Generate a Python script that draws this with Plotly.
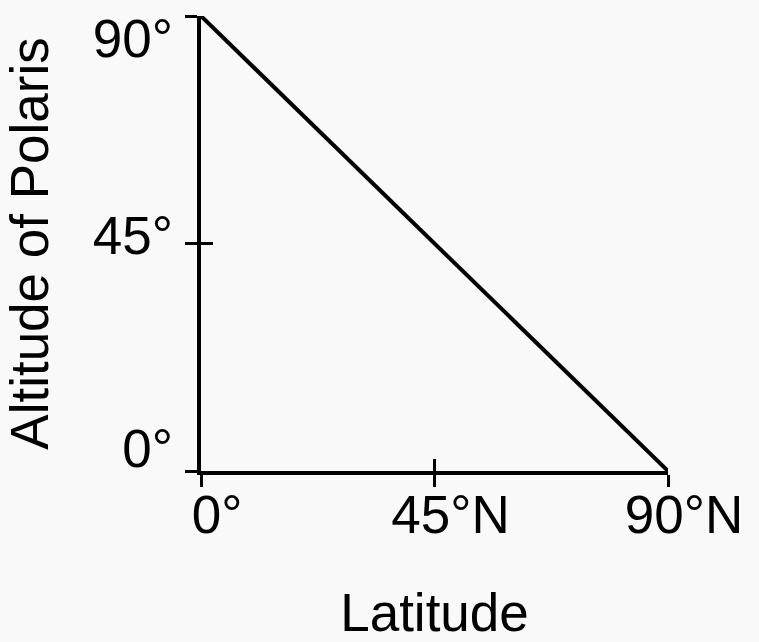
import plotly.graph_objects as go

# data: altitude of Polaris vs latitude
latitude = [0, 90]
altitude = [90, 0]

x_ticks = [0, 45, 90]
x_labels = ["0°", "45°N", "90°N"]
y_ticks = [0, 45, 90]
y_labels = ["0°", "45°", "90°"]

# where the y labels sit (nudged so the end labels stay inside the frame)
y_label_pos = [4.5, 46.6, 85.5]

FONT = "Liberation Sans, Arial, sans-serif"
BG = "#f9f9f9"

fig = go.Figure()

fig.add_trace(go.Scatter(
    x=latitude, y=altitude,
    mode="lines",
    line=dict(color="black", width=4),
    cliponaxis=False,
    hoverinfo="skip",
    showlegend=False,
))

# invisible traces so the overlay axes get drawn
for xa, ya in (("x2", "y2"), ("x", "y3")):
    fig.add_trace(go.Scatter(
        x=latitude, y=altitude,
        xaxis=xa, yaxis=ya,
        mode="lines",
        line=dict(color="rgba(0,0,0,0)", width=0),
        hoverinfo="skip",
        showlegend=False,
    ))

common = dict(
    range=[0, 90],
    showgrid=False,
    zeroline=False,
    showline=True,
    linecolor="black",
    linewidth=4,
    tickcolor="black",
    tickwidth=3,
    ticklen=12,
    automargin=False,
)

fig.update_layout(
    width=759,
    height=642,
    margin=dict(l=201, r=91, t=16, b=171),
    paper_bgcolor=BG,
    plot_bgcolor=BG,
    font=dict(family=FONT, size=53, color="black"),
    xaxis=dict(
        **common,
        ticks="outside",
        tickvals=x_ticks,
        ticktext=x_labels,
        ticklabelshift=16,
        ticklabelstandoff=-18,
        ticklabeloverflow="allow",
        title=dict(text="Latitude", standoff=52, font=dict(size=53)),
    ),
    yaxis=dict(
        **common,
        ticks="outside",
        tickvals=y_ticks,
        showticklabels=False,
    ),
    xaxis2=dict(
        **common,
        overlaying="x",
        anchor="y2",
        side="bottom",
        ticks="inside",
        tickvals=x_ticks,
        showticklabels=False,
    ),
    yaxis2=dict(
        **common,
        overlaying="y",
        anchor="x2",
        side="left",
        ticks="inside",
        tickvals=y_ticks,
        showticklabels=False,
    ),
    yaxis3=dict(
        range=[0, 90],
        overlaying="y",
        anchor="x",
        side="left",
        automargin=False,
        showgrid=False,
        zeroline=False,
        showline=False,
        ticks="",
        tickvals=y_label_pos,
        ticktext=y_labels,
        ticklabelstandoff=27,
        ticklabeloverflow="allow",
        title=dict(text="Altitude of Polaris", standoff=39, font=dict(size=53)),
    ),
)

# let the figure fill the page like the original image
fig.write_html(
    "out.html",
    config={"displayModeBar": False},
    post_script="document.body.style.margin='0';",
)
